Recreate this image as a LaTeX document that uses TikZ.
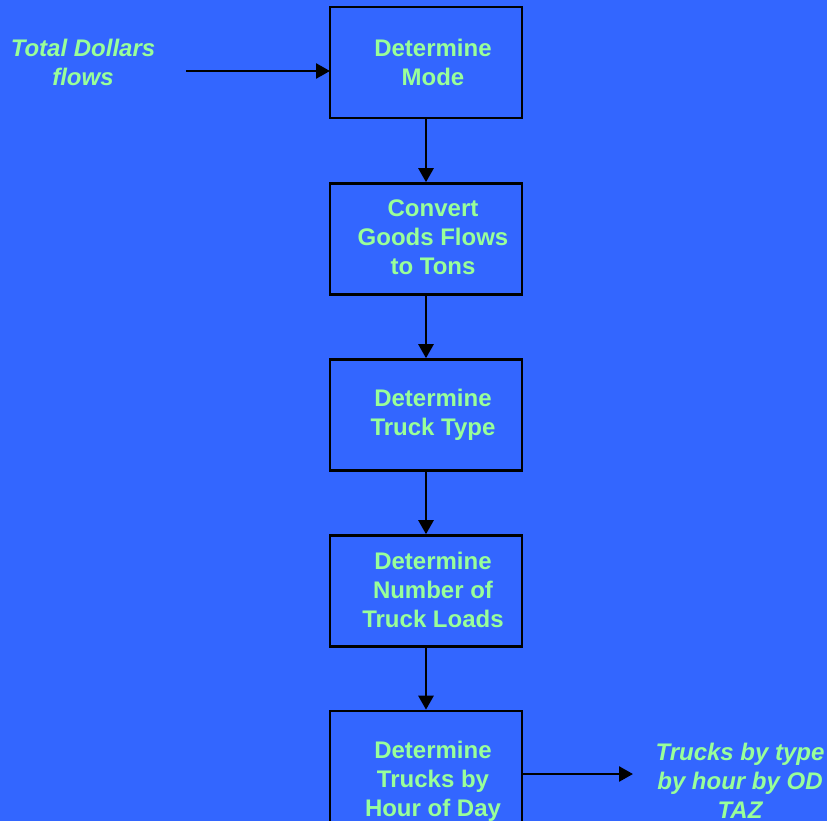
\documentclass[tikz,border=0pt]{standalone}
\usepackage{fontspec}
\setmainfont{Liberation Sans}
\usetikzlibrary{arrows.meta}
\definecolor{bgblue}{RGB}{51,102,255}
\definecolor{txtgreen}{RGB}{153,255,153}
\tikzset{
  stepbox/.style={draw=black, line width=2.6pt, fill=bgblue, minimum width=192pt, minimum height=111pt, inner sep=0pt},
  boxtext/.style={text=txtgreen, font=\fontsize{24}{29}\selectfont\bfseries, align=center, inner sep=0pt},
  sidetext/.style={text=txtgreen, font=\fontsize{24}{29}\selectfont\bfseries\itshape, align=center, inner sep=0pt},
  conn/.style={draw=black, line width=2.6pt, -{Triangle[length=14pt,width=15pt]}}
}
\begin{document}
\begin{tikzpicture}[x=1pt,y=-1pt]
\useasboundingbox (0,0) rectangle (827,821);
\clip (0,0) rectangle (827,821);
\fill[bgblue] (0,0) rectangle (827,821);
\node[stepbox] (b1) at (426,62.5) {};
\node[stepbox] (b2) at (426,239) {};
\node[stepbox] (b3) at (426,415) {};
\node[stepbox] (b4) at (426,591) {};
\node[stepbox, minimum height=140pt] (b5) at (426,781) {};
\node[boxtext] (t1) at (433,62.5) {Determine\\Mode};
\node[boxtext] (t2) at (433,237.5) {Convert\\Goods Flows\\to Tons};
\node[boxtext] (t3) at (433,415) {Determine\\Truck Type};
\node[boxtext] (t4) at (433,589.5) {Determine\\Number of\\Truck Loads};
\node[boxtext] (t5) at (433,781.5) {Determine\\Trucks by\\Hour of Day};
\node[sidetext] (in) at (83,62) {Total Dollars\\flows};
\node[sidetext] (out) at (740,781) {Trucks by type\\by hour by OD\\TAZ};
\coordinate (inS) at (186,71);
\coordinate (b1W) at (330,71);
\coordinate (b5E) at (522,774);
\coordinate (outW) at (633,774);
\draw[conn] (inS) -- (b1W);
\draw[conn] (b1.south) -- (b2.north);
\draw[conn] (b2.south) -- (b3.north);
\draw[conn] (b3.south) -- (b4.north);
\draw[conn] (b4.south) -- (b5.north);
\draw[conn] (b5E) -- (outW);
\end{tikzpicture}
\end{document}
